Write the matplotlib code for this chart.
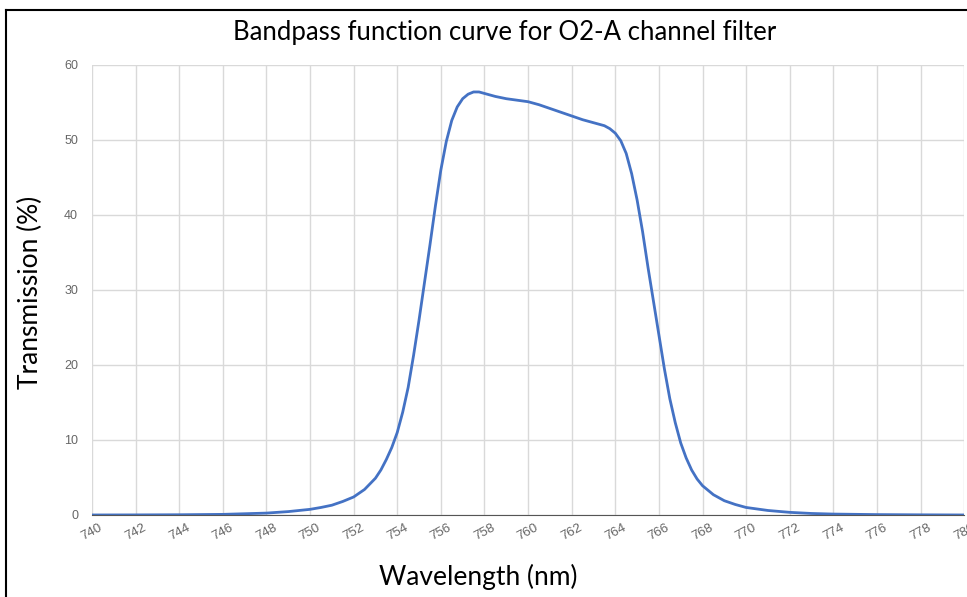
import matplotlib.pyplot as plt
from matplotlib.lines import Line2D

# values
wavelength = [740, 742, 744, 746, 748, 749, 750, 750.5, 751, 751.5, 752, 752.5,
              753, 753.25, 753.5, 753.75, 754, 754.25, 754.5, 754.75, 755, 755.25,
              755.5, 755.75, 756, 756.25, 756.5, 756.75, 757, 757.25, 757.5, 757.75,
              758, 758.25, 758.5, 759, 759.5, 760, 760.5, 761, 761.5, 762,
              762.5, 763, 763.5, 763.75, 764, 764.25, 764.5, 764.75, 765, 765.25,
              765.5, 765.75, 766, 766.25, 766.5, 766.75, 767, 767.25, 767.5, 767.75,
              768, 768.5, 769, 769.5, 770, 771, 772, 773, 774, 776, 778, 780]
transmission = [0.0, 0.01, 0.03, 0.08, 0.25, 0.45, 0.75, 1.0, 1.3, 1.8, 2.4, 3.4,
                4.9, 6.0, 7.4, 9.0, 11, 13.7, 17, 21.3, 26, 31,
                36, 41.2, 46, 49.8, 52.6, 54.4, 55.5, 56.1, 56.4, 56.4,
                56.2, 56.0, 55.8, 55.5, 55.3, 55.1, 54.7, 54.2, 53.7, 53.2,
                52.7, 52.3, 51.9, 51.5, 50.9, 49.9, 48.2, 45.5, 42, 37.8,
                33, 28.5, 24, 19.5, 15.5, 12.3, 9.6, 7.6, 6.0, 4.8,
                3.9, 2.7, 1.9, 1.4, 1.0, 0.6, 0.35, 0.2, 0.12, 0.05, 0.02, 0.0]
xticks = list(range(740, 781, 2))
yticks = [0, 10, 20, 30, 40, 50, 60]

fig = plt.figure(figsize=(9.67, 5.97), dpi=100)
ax = fig.add_axes([0.0951, 0.1374, 0.902, 0.7538])

ax.plot(wavelength, transmission, color='#4472c4', linewidth=2,
        solid_joinstyle='round')
ax.set_xlim(740, 780)
ax.set_ylim(0, 60)
ax.set_xticks(xticks)
ax.set_yticks(yticks)
ax.set_xticklabels([str(t) for t in xticks], rotation=28, fontsize=9.5,
                   color='#666666', family='Liberation Sans')
ax.set_yticklabels([str(t) for t in yticks], fontsize=9,
                   color='#666666', family='Liberation Sans')
ax.tick_params(axis='x', length=0, pad=5)
ax.tick_params(axis='y', length=0, pad=10)
ax.grid(True, color='#d9d9d9', linewidth=1)
ax.set_axisbelow(True)
for s in ['top', 'right', 'left']:
    ax.spines[s].set_visible(False)
ax.spines['bottom'].set_color('#555555')

fig.text(0.522, 0.946, 'Bandpass function curve for O2-A channel filter',
         ha='center', va='center', fontsize=18.5, family='Lato')
fig.text(0.495, 0.033, 'Wavelength (nm)', ha='center', va='center',
         fontsize=19, family='Lato')
fig.text(0.031, 0.51, 'Transmission (%)', ha='center', va='center',
         rotation=90, fontsize=19, family='Lato')

# black frame on top and left
fig.add_artist(Line2D([0.006, 1.0], [0.984, 0.984], color='black', linewidth=1.5))
fig.add_artist(Line2D([0.006, 0.006], [0.0, 0.984], color='black', linewidth=1.5))

fig.savefig('out.png', dpi=100)
